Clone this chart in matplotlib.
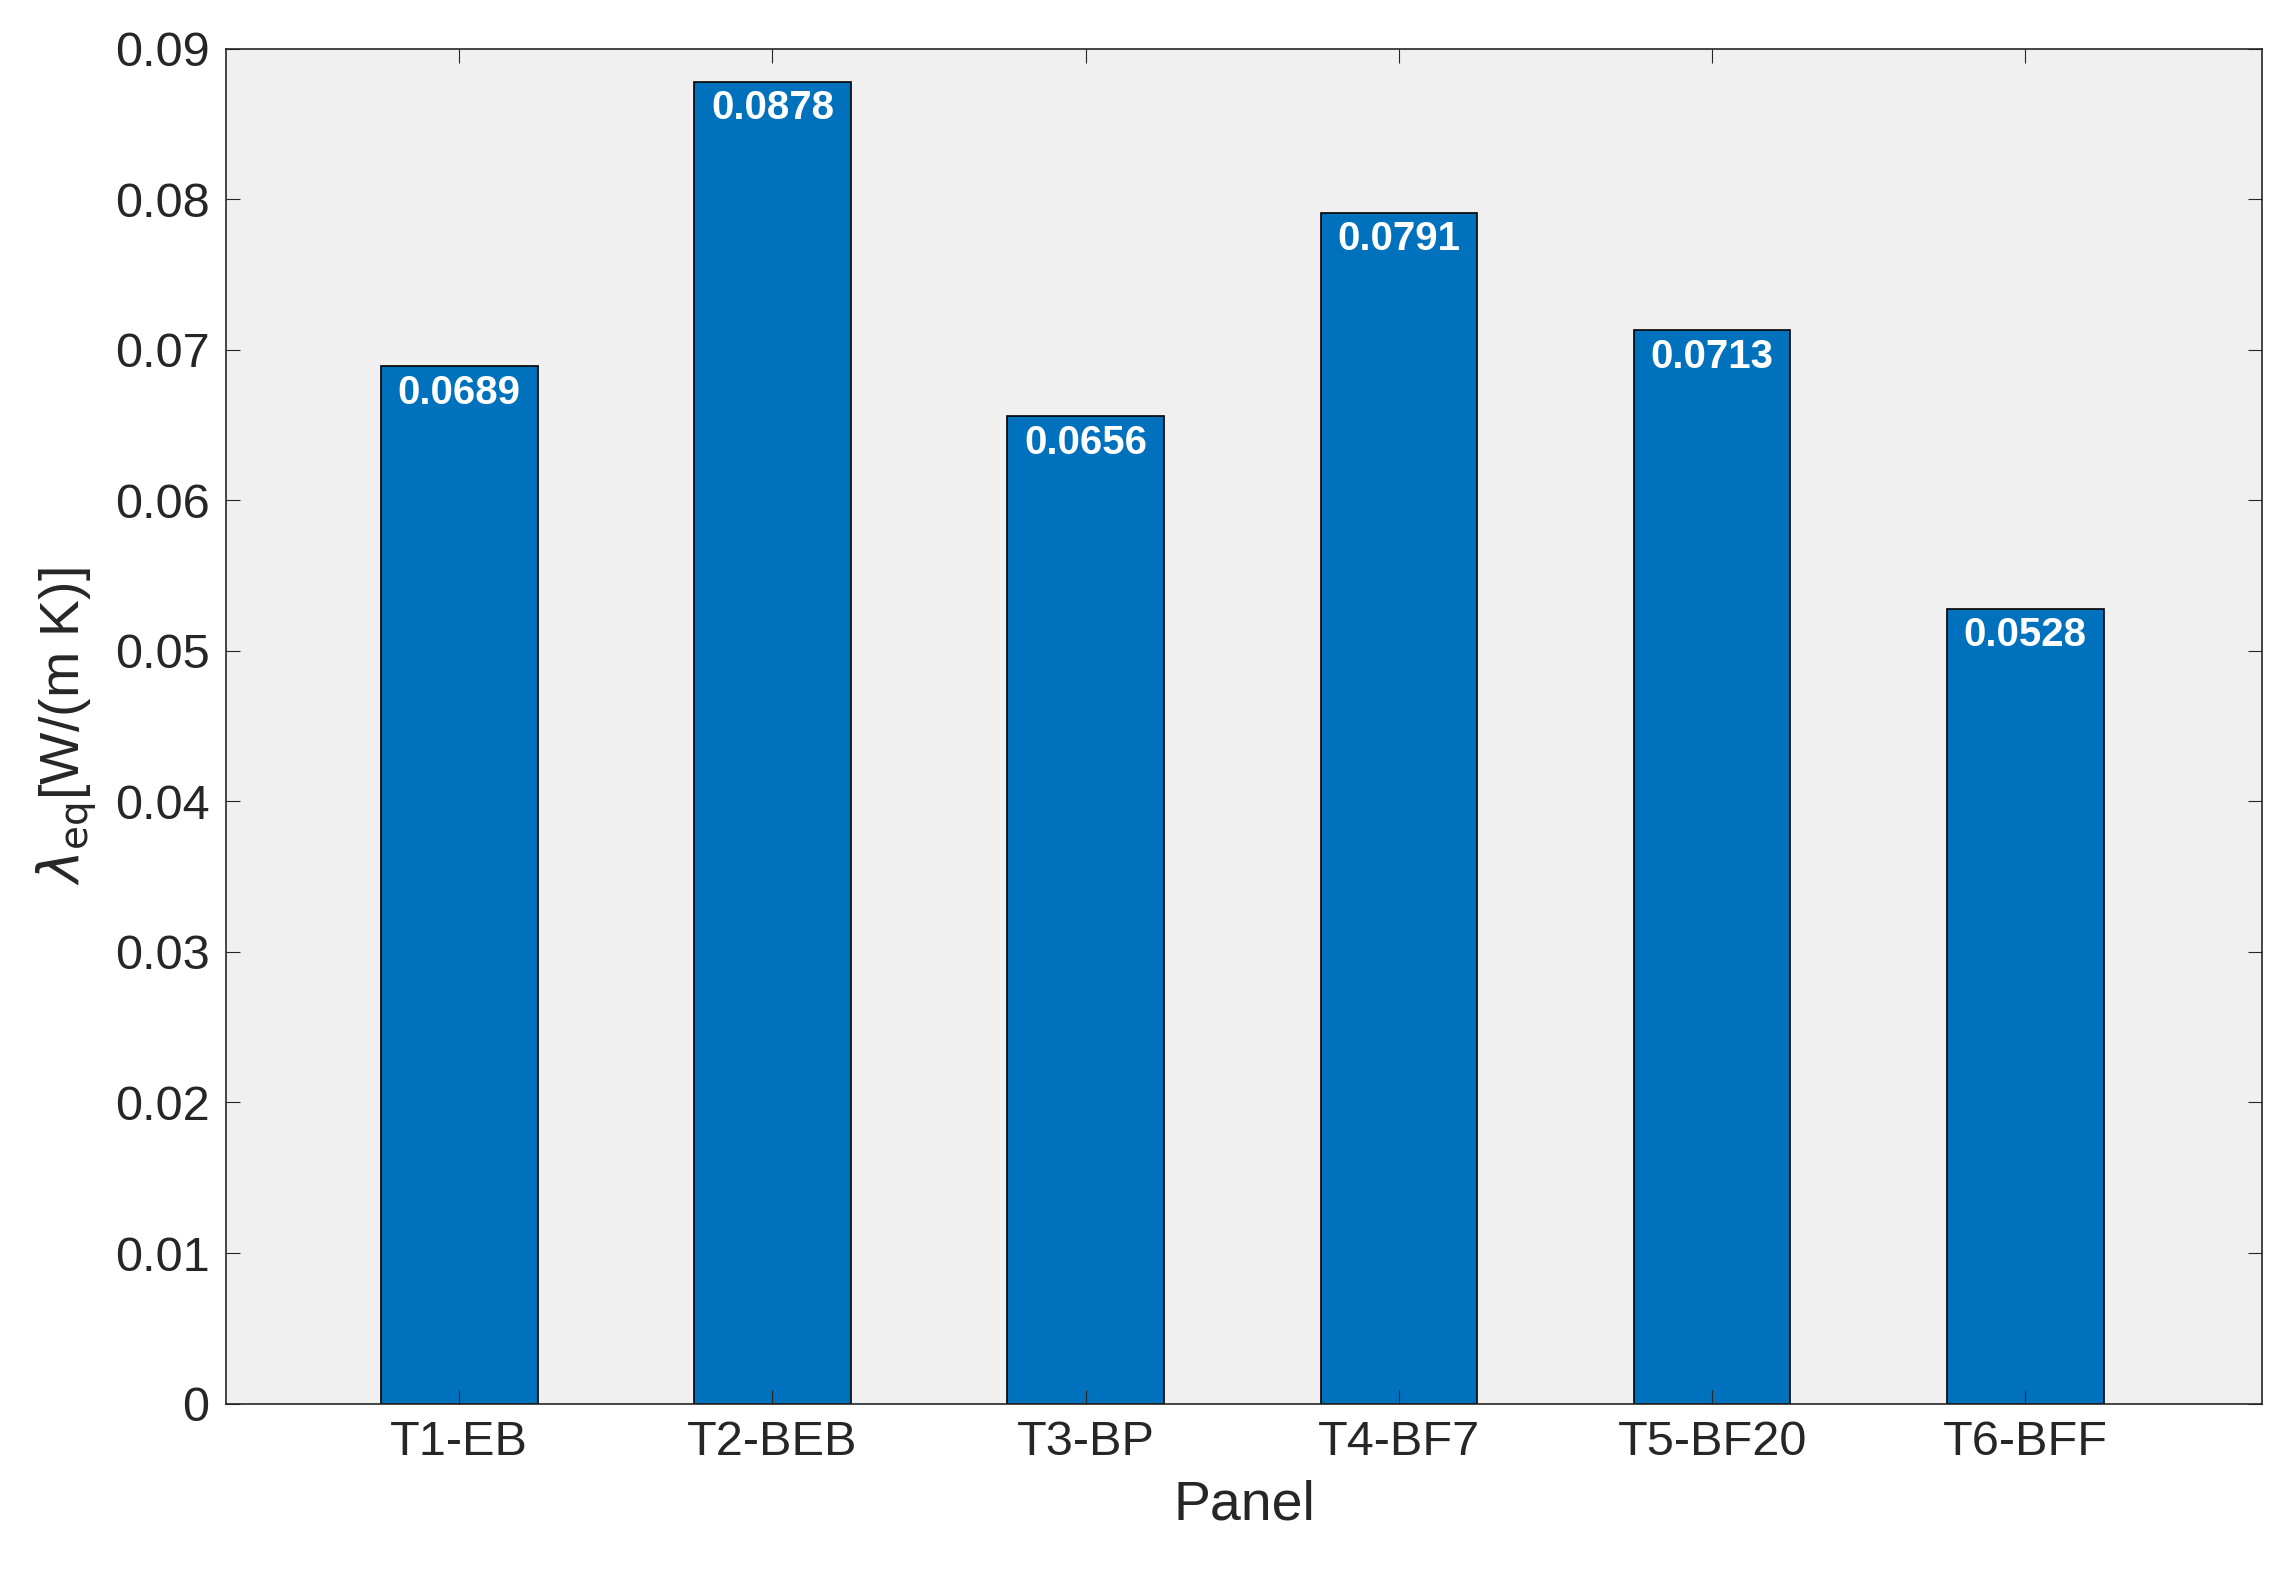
import matplotlib
matplotlib.use("Agg")
import matplotlib.pyplot as plt

panels = ["T1-EB", "T2-BEB", "T3-BP", "T4-BF7", "T5-BF20", "T6-BFF"]
lambda_eq = [0.0689, 0.0878, 0.0656, 0.0791, 0.0713, 0.0528]

plt.rcParams["font.family"] = ["Arial", "Liberation Sans", "DejaVu Sans"]

fig = plt.figure(figsize=(22.85, 15.7), dpi=100)
ax = fig.add_axes([0.099, 0.106, 0.891, 0.863])
ax.set_facecolor("#f0f0f0")

x = range(len(panels))
bars = ax.bar(x, lambda_eq, width=0.5, color="#0072bd", edgecolor="black", linewidth=1.2)
for b, v in zip(bars, lambda_eq):
    ax.text(b.get_x() + b.get_width() / 2, v - 0.0005, f"{v:.4f}",
            ha="center", va="top", color="white", fontweight="bold", fontsize=29)

ax.set_xlim(-0.744, 5.756)
ax.set_ylim(0, 0.09)
ax.set_xticks(list(x))
ax.set_xticklabels(panels)
ax.set_yticks([i * 0.01 for i in range(10)])
ax.set_yticklabels(["0"] + [f"{i * 0.01:.2f}" for i in range(1, 10)])
ax.tick_params(direction="in", length=10, labelsize=35, colors="#262626",
               top=True, right=True, pad=12)
for s in ax.spines.values():
    s.set_color("#262626")
    s.set_linewidth(1.2)

ax.set_xlabel("Panel", fontsize=40, color="#262626", labelpad=10)
ax.set_ylabel(r"$\lambda_{\mathrm{eq}}$[W/(m K)]", fontsize=40, color="#262626", labelpad=12)

fig.savefig("out.png", dpi=100)
